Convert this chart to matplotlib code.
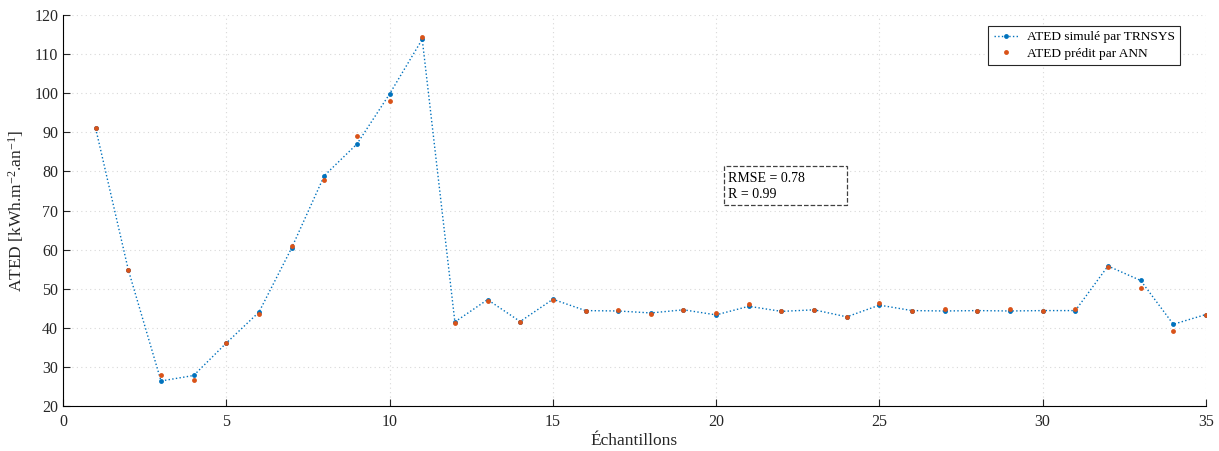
import numpy as np
import matplotlib
matplotlib.use("Agg")
import matplotlib.pyplot as plt
from matplotlib.patches import Rectangle

# echantillons et valeurs
samples = np.arange(1, 36)
ated_trnsys = [91.0, 54.8, 26.4, 27.8, 36.1, 44.0, 60.4, 78.9, 87.0, 99.8,
               113.8, 41.5, 47.2, 41.6, 47.3, 44.4, 44.3, 43.8, 44.6, 43.3,
               45.5, 44.2, 44.6, 42.8, 45.8, 44.4, 44.3, 44.4, 44.3, 44.4,
               44.4, 55.8, 52.1, 40.9, 43.4]
ated_ann = [91.0, 54.8, 27.8, 26.6, 36.1, 43.6, 60.8, 77.9, 89.0, 98.0,
            114.5, 41.1, 46.8, 41.6, 47.2, 44.4, 44.6, 43.5, 44.6, 43.7,
            46.2, 44.2, 44.6, 42.8, 46.3, 44.4, 44.7, 44.4, 44.9, 44.4,
            44.8, 55.6, 50.3, 39.1, 43.4]
rmse = 0.78
r = 0.99

plt.rcParams['font.family'] = ['Liberation Serif', 'DejaVu Serif']
plt.rcParams['mathtext.fontset'] = 'custom'
plt.rcParams['mathtext.rm'] = 'Liberation Serif'
plt.rcParams['mathtext.it'] = 'Liberation Serif:italic'

def main():
    fig = plt.figure(figsize=(12.19, 4.51), dpi=100)
    ax = fig.add_axes([0.0517, 0.0998, 0.9376, 0.8669])

    ax.plot(samples, ated_trnsys, ':', color='#0072BD', lw=1.0, marker='o',
            ms=3.5, mec='none', mfc='#0072BD', label="ATED simulé par TRNSYS")
    ax.plot(samples, ated_ann, 'o', color='#D95319', ms=3.5, mec='none',
            label="ATED prédit par ANN")

    ax.set_xlim(0, 35)
    ax.set_ylim(20, 120)
    ax.set_xticks(np.arange(0, 36, 5))
    ax.set_yticks(np.arange(20, 121, 10))
    ax.grid(True, linestyle=(0, (1, 3)), color='#d8d8d8', lw=0.8)
    ax.spines['top'].set_visible(False)
    ax.spines['right'].set_visible(False)
    ax.tick_params(direction='in', labelsize=11.5, length=5, color='#262626',
                   labelcolor='#262626')
    ax.tick_params(axis='x', pad=6)
    ax.set_xlabel("Échantillons", fontsize=12.5, color='#262626', labelpad=2)
    ax.set_ylabel(r"ATED [kWh.m$^{-2}$.an$^{-1}$]", fontsize=12.5,
                  color='#262626', labelpad=6)

    leg = ax.legend(loc='upper right', bbox_to_anchor=(0.9835, 0.99),
                    fontsize=9.6, fancybox=False, edgecolor='#262626',
                    framealpha=1, borderpad=0.4, handlelength=1.9,
                    handletextpad=0.6, labelspacing=0.3)
    leg.get_frame().set_linewidth(0.8)

    # cadre pointille autour des indicateurs
    box = Rectangle((0.5779, 0.5132), 0.1076, 0.0995, transform=ax.transAxes,
                    fc='white', ec='#404040', ls='--', lw=0.9, zorder=3)
    ax.add_patch(box)
    ax.text(0.5815, 0.598, "RMSE = %.2f\nR = %.2f" % (rmse, r),
            transform=ax.transAxes, fontsize=10, va='top', ha='left',
            linespacing=1.3, zorder=4)

    fig.savefig("out.png")

if __name__ == "__main__":
    main()
